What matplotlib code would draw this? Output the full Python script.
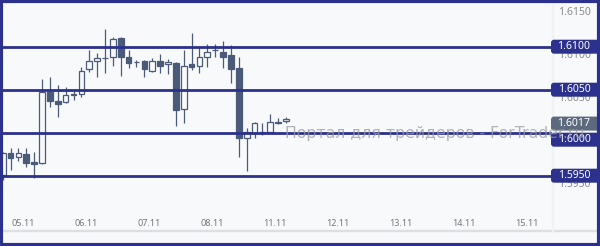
import matplotlib
matplotlib.use('Agg')
import matplotlib.pyplot as plt
from matplotlib.patches import FancyBboxPatch, Rectangle
from matplotlib.transforms import IdentityTransform

# ---- data (3-hour candles) ----
opens  = [1.59508, 1.59760, 1.59713, 1.59752, 1.59655, 1.59643, 1.60469, 1.60368, 1.60353,
          1.60442, 1.60446, 1.60736, 1.60833, 1.60864, 1.60884, 1.61097, 1.60876, 1.60822,
          1.60833, 1.60721, 1.60833, 1.60798, 1.60806, 1.60271, 1.60795, 1.60775, 1.60876,
          1.60961, 1.60942, 1.60903, 1.60748, 1.59934, 1.59992, 1.60000, 1.60012, 1.60124,
          1.60136]
highs  = [1.59779, 1.59818, 1.59826, 1.59826, 1.59779, 1.60624, 1.60651, 1.60554, 1.60527,
          1.60496, 1.60767, 1.60961, 1.60922, 1.61202, 1.61116, 1.61116, 1.60961, 1.60845,
          1.60845, 1.60864, 1.60915, 1.60853, 1.60826, 1.60961, 1.61155, 1.61000, 1.61031,
          1.61031, 1.61066, 1.61019, 1.60884, 1.60050, 1.60128, 1.60116, 1.60217, 1.60167,
          1.60186]
lows   = [1.59450, 1.59566, 1.59674, 1.59605, 1.59469, 1.59640, 1.60302, 1.60186, 1.60349,
          1.60380, 1.60419, 1.60709, 1.60643, 1.60698, 1.60779, 1.60659, 1.60756, 1.60767,
          1.60651, 1.60709, 1.60698, 1.60682, 1.60078, 1.60109, 1.60729, 1.60690, 1.60767,
          1.60884, 1.60748, 1.60581, 1.59713, 1.59558, 1.59934, 1.59973, 1.60000, 1.60101,
          1.60109]
closes = [1.59760, 1.59702, 1.59760, 1.59651, 1.59640, 1.60469, 1.60372, 1.60329, 1.60434,
          1.60446, 1.60717, 1.60833, 1.60864, 1.60866, 1.61089, 1.60876, 1.60814, 1.60818,
          1.60736, 1.60833, 1.60779, 1.60822, 1.60264, 1.60775, 1.60767, 1.60876, 1.60942,
          1.60957, 1.60884, 1.60736, 1.59934, 1.60012, 1.60116, 1.60008, 1.60128, 1.60116,
          1.60165]
date_labels = ['05.11', '06.11', '07.11', '08.11', '11.11', '12.11', '13.11', '14.11', '15.11']
levels = [1.6100, 1.6050, 1.6000, 1.5950]
axis_ticks = [1.6150, 1.6100, 1.6050, 1.6000, 1.5950]
last_price = 1.6017
watermark = 'Портал для трейдеров - ForTrader.ru'

# ---- style ----
bg = '#f8f9fb'
navy = '#2b318c'
dark = '#4b5a78'
grey_box = '#5d6a7e'

W, H = 600, 246
fig = plt.figure(figsize=(W / 100, H / 100), dpi=100)
fig.patch.set_facecolor(bg)
ax = fig.add_axes([0, 0, 1, 1])
ax.set_facecolor(bg)
ax.set_axis_off()

x0px, step = 2.7, 7.87
ax.set_xlim(-x0px / step, (W - x0px) / step)
ref_py, ppu = 132.7, 8600.0
ax.set_ylim(1.6 - (H - ref_py) / ppu, 1.6 + ref_py / ppu)

idx = list(range(len(opens)))
ax.vlines(idx, lows, highs, color=dark, lw=0.9, zorder=3)
up = [c >= o for o, c in zip(opens, closes)]
heights = [c - o for o, c in zip(opens, closes)]
ax.bar(idx, heights, bottom=opens, width=0.72,
       color=[bg if u else dark for u in up], edgecolor=dark, linewidth=0.9, zorder=4)

# horizontal levels
for lv in levels:
    ax.axhline(lv, xmin=0, xmax=551 / W, color=navy, lw=2.0, zorder=5)

idt = IdentityTransform()

def py(val):
    return ax.transData.transform((0, val))[1]

# faint separators
fig.add_artist(Rectangle((0, H - 231), W, 1, transform=idt, color='#dedfe3', zorder=1))
fig.add_artist(Rectangle((552, H - 231), 1, 231, transform=idt, color='#f1f2f4', zorder=1))

# grey price axis tick labels
for t in axis_ticks:
    fig.text(591 / W, (py(t) - 3) / H, f'{t:.4f}', ha='right', va='top',
             fontsize=7.5, color='#8a8a8a', family='Noto Sans', zorder=6)

# date labels
for k, lab in enumerate(date_labels):
    xp = ax.transData.transform((2.6 + 8 * k, 0))[0]
    fig.text(xp / W, (H - 223) / H, lab, ha='center', va='center',
             fontsize=6.5, color='#777777', family='Noto Sans')

# labels on right
shift = {1.6000: 7.0}
def label(yc, txt, fc):
    box = FancyBboxPatch((551, yc - 7), 60, 14, boxstyle='round,pad=0,rounding_size=3',
                         transform=idt, fc=fc, ec='none', zorder=8)
    fig.add_artist(box)
    fig.text(574 / W, yc / H, txt, ha='center', va='center', fontsize=7.5,
             color='white', family='Noto Sans', zorder=9)

for lv in levels:
    label(py(lv) - shift.get(lv, 0.0), f'{lv:.4f}', navy)
label(py(last_price) - 5.5, f'{last_price:.4f}', grey_box)

# watermark (drawn over everything, translucent)
fig.text(285 / W, (H - 137.7) / H, watermark, ha='left', va='baseline',
         fontsize=11.3, color='#9a9a9a', alpha=0.75, family='DejaVu Sans', zorder=12)

# outer border
fig.add_artist(Rectangle((1, 1.5), W - 2.5, H - 2.5, transform=idt, fill=False,
                         ec=navy, lw=3, zorder=20))

fig.savefig('out.png', dpi=100, facecolor=bg)
